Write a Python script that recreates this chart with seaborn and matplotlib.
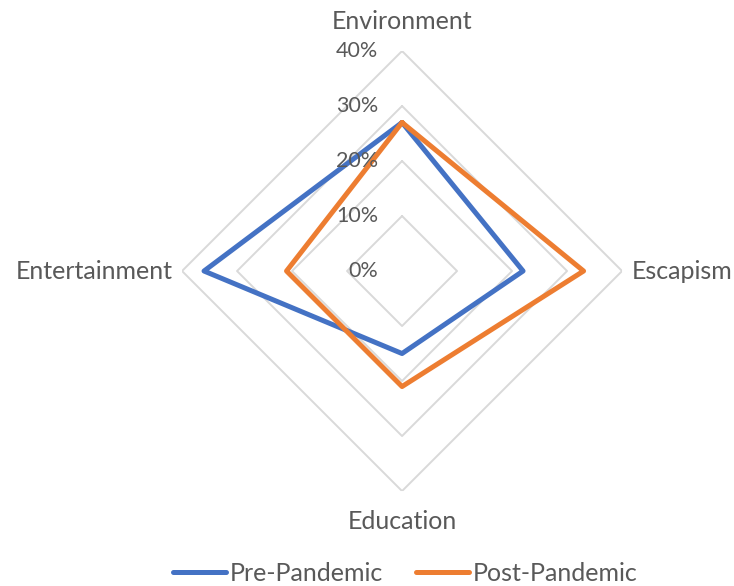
import numpy as np
import pandas as pd
import matplotlib
matplotlib.use("Agg")
import matplotlib.pyplot as plt
import seaborn as sns

categories = ["Environment", "Escapism", "Education", "Entertainment"]
pre_pandemic = [0.27, 0.22, 0.15, 0.36]
post_pandemic = [0.27, 0.33, 0.21, 0.21]
ring_values = [0.0, 0.1, 0.2, 0.3, 0.4]
ring_labels = ["0%", "10%", "20%", "30%", "40%"]
series_names = ["Pre-Pandemic", "Post-Pandemic"]

sns.set_theme(style="white")
plt.rcParams["font.family"] = ["Lato", "DejaVu Sans"]
txt_color = "#595959"
clrs = ["#4472C4", "#ED7D31"]

angles = np.linspace(0, 2 * np.pi, len(categories), endpoint=False)
closed = np.append(angles, 2 * np.pi)

rows = []
for name, vals in zip(series_names, [pre_pandemic, post_pandemic]):
    vv = vals + vals[:1]
    for th, v in zip(closed, vv):
        rows.append({"theta": th, "value": v, "series": name})
df = pd.DataFrame(rows)

fig = plt.figure(figsize=(7.34, 5.86), dpi=100)
ax = fig.add_axes([0.248, 0.162, 0.5995, 0.751], projection="polar")
ax.set_theta_offset(np.pi / 2)
ax.set_theta_direction(-1)

# diamond grid rings (no spokes)
for r in ring_values[1:]:
    ax.plot(closed, [r] * len(closed), color="#d9d9d9", lw=1.4, zorder=1)

sns.lineplot(data=df, x="theta", y="value", hue="series", palette=clrs,
             sort=False, estimator=None, lw=3.6, ax=ax, legend=False, zorder=3)

ax.set_ylim(0, 0.4)
ax.set_xticks([])
ax.set_yticks([])
ax.grid(False)
ax.spines["polar"].set_visible(False)
ax.set_xlabel("")
ax.set_ylabel("")

for r, lab in zip(ring_values, ring_labels):
    ax.annotate(lab, xy=(0, r), xytext=(-17, 0), textcoords="offset points",
                ha="right", va="center", fontsize=15.5, color=txt_color)

offsets = [(0, 21, "center"), (7, 0, "left"), (0, -22, "center"), (-7, 0, "right")]
for th, cat, (dx, dy, ha) in zip(angles, categories, offsets):
    ax.annotate(cat, xy=(th, 0.4), xytext=(dx, dy), textcoords="offset points",
                ha=ha, va="center", fontsize=18, color=txt_color,
                annotation_clip=False)

handles = [plt.Line2D([], [], color=c, lw=3.6, solid_capstyle="round") for c in clrs]
leg = fig.legend(handles, series_names, loc="lower center", ncol=2,
                 bbox_to_anchor=(0.552, -0.037), frameon=False, fontsize=18,
                 handlelength=2.1, handletextpad=0.15, columnspacing=1.35)
for t in leg.get_texts():
    t.set_color(txt_color)

fig.savefig("out.png", dpi=100)
